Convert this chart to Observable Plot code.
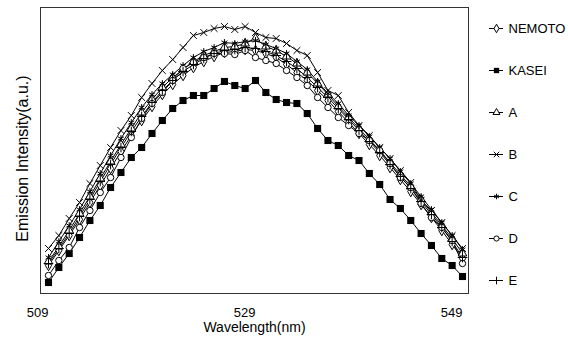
<!DOCTYPE html>
<html>
<head>
<meta charset="utf-8">
<script src="https://cdn.jsdelivr.net/npm/d3@7"></script>
<script src="https://cdn.jsdelivr.net/npm/@observablehq/plot@0.6"></script>
<style>
  html, body { margin: 0; padding: 0; background: #fff; }
  #wrap { position: relative; width: 568px; height: 340px; font-family: "Liberation Sans", Arial, sans-serif; }
  #wrap svg { position: absolute; top: 0; }
</style>
</head>
<body>
<div id="wrap"></div>
<script>
const wavelength = [509,510,511,512,513,514,515,516,517,518,519,520,521,522,523,524,525,526,527,528,529,530,531,532,533,534,535,536,537,538,539,540,541,542,543,544,545,546,547,548,549];
const xTicks = [509, 529, 549];
const seriesNames = ["NEMOTO", "KASEI", "A", "B", "C", "D", "E"];

const NEMOTO = [28,43,58,74,91,108,125,142,158,173,187,199,209,218,226,232,237,241,242,244,243,240,236,229,221,213,203,193,182,171,160,149,138,126,114,102,89,76,63,49,35];
const KASEI  = [11,26,40,56,73,88,106,121,136,146,160,173,185,193,198,198,205,212,208,205,213,201,194,191,190,180,165,153,148,138,133,120,109,94,85,73,60,48,35,28,17];
const A      = [32,47,63,80,97,115,132,149,165,181,194,206,216,224,232,238,242,246,247,250,255,247,243,237,230,221,210,199,187,176,165,154,143,131,119,107,94,81,68,55,40];
const B      = [45,58,75,91,110,128,146,163,178,196,210,223,234,246,258,261,265,267,264,267,261,256,255,250,243,238,221,203,198,181,168,158,146,135,123,111,93,83,71,58,45];
const C      = [36,52,68,84,102,120,138,155,171,186,199,210,219,228,236,242,246,251,250,252,253,249,245,240,232,224,212,200,190,178,168,157,146,135,122,110,97,84,71,58,44];
const D      = [18,33,46,66,83,101,116,136,156,175,190,201,213,225,231,236,240,240,239,243,236,233,230,223,216,208,196,186,176,168,160,153,143,130,116,106,90,76,66,53,30];
const E      = [30,45,60,77,94,112,129,146,162,177,191,203,213,222,229,235,240,243,244,246,245,242,238,232,225,216,206,196,185,174,163,152,141,129,117,105,92,79,66,52,36];

const seriesValues = [NEMOTO, KASEI, A, B, C, D, E];
const seriesSymbols = ["diamond", "square", "triangle", "times", "asterisk", "circle", "plus"];
const seriesFills = ["white", "black", "white", "none", "none", "white", "none"];

const rows = [];
seriesNames.forEach((name, i) => {
  seriesValues[i].forEach((v, j) => rows.push({series: name, wl: wavelength[j], v}));
});

const font = "Liberation Sans, Arial, sans-serif";

const marks = [Plot.frame({stroke: "#333", strokeWidth: 1})];
seriesNames.forEach((name, i) => {
  const data = rows.filter(d => d.series === name);
  marks.push(Plot.line(data, {x: "wl", y: "v", stroke: "black", strokeWidth: 1}));
});
seriesNames.forEach((name, i) => {
  const data = rows.filter(d => d.series === name);
  marks.push(Plot.dot(data, {
    x: "wl", y: "v",
    symbol: () => seriesSymbols[i],
    r: seriesSymbols[i] === "square" ? 4 : 3.2,
    fill: seriesFills[i],
    stroke: seriesSymbols[i] === "square" ? "none" : "black",
    strokeWidth: 1
  }));
});
marks.push(Plot.axisX({
  ticks: xTicks, tickSize: 0, tickPadding: 14, textAnchor: "end",
  tickFormat: d => String(d), fontSize: 13,
  label: null
}));
marks.push(Plot.text(["Wavelength(nm)"], {
  text: d => d, frameAnchor: "bottom", textAnchor: "middle", lineAnchor: "middle", dy: 34, fontSize: 14
}));
marks.push(Plot.text(["Emission Intensity(a.u.)"], {
  text: d => d, frameAnchor: "left", textAnchor: "middle", rotate: -90, dx: -18, dy: 8, fontSize: 16
}));

const chart = Plot.plot({
  width: 568, height: 340,
  marginLeft: 40, marginRight: 100, marginTop: 7, marginBottom: 47,
  style: {fontFamily: font, fontSize: "15px", color: "black", background: "white"},
  x: {domain: [509, 549], insetLeft: 8, insetRight: 6},
  y: {domain: [0, 286], axis: null},
  symbol: {type: "identity"},
  marks
});
chart.style.left = "0px";
document.getElementById("wrap").appendChild(chart);

// legend
const legendRows = seriesNames.map((name, i) => ({name, sym: seriesSymbols[i], fill: seriesFills[i]}));
const legendMarks = [
  Plot.ruleY(legendRows, {y: "name", x1: 11, x2: 25, stroke: "black", strokeWidth: 1})
];
legendRows.forEach((d) => {
  legendMarks.push(Plot.dot([d], {
    x: 18, y: "name", symbol: () => d.sym,
    r: d.sym === "square" ? 3 : 2.6,
    fill: d.fill, stroke: d.sym === "square" ? "none" : "black", strokeWidth: 1
  }));
});
legendMarks.push(Plot.text(legendRows, {x: 30, y: "name", text: "name", textAnchor: "start", fontSize: 13}));

const legend = Plot.plot({
  width: 90, height: 340,
  marginLeft: 0, marginRight: 0, marginTop: 0, marginBottom: 0,
  style: {fontFamily: font, fontSize: "13px", color: "black", background: "transparent"},
  x: {domain: [0, 90], range: [0, 90], axis: null},
  y: {type: "point", domain: seriesNames, range: [27, 281], padding: 0, axis: null},
  symbol: {type: "identity"},
  marks: legendMarks
});
legend.style.left = "478px";
document.getElementById("wrap").appendChild(legend);
</script>
</body>
</html>
